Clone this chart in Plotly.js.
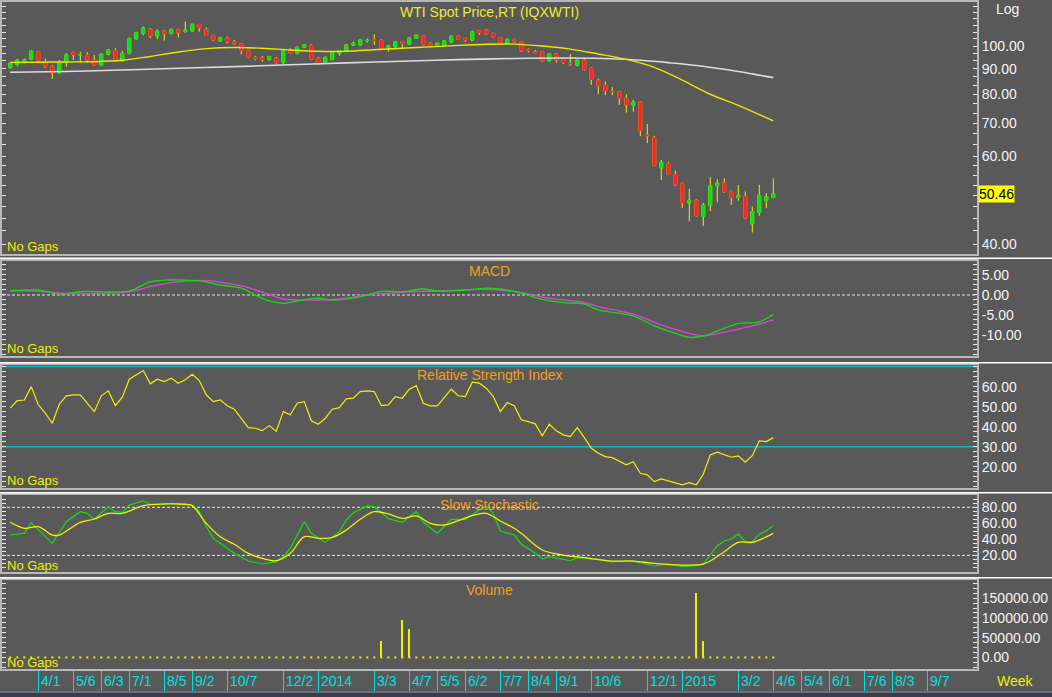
<!DOCTYPE html>
<html><head><meta charset="utf-8">
<script src="https://cdn.plot.ly/plotly-3.0.1.min.js"></script>
<style>html,body{margin:0;padding:0;background:#595959;overflow:hidden}</style>
</head><body><div id="chart" style="width:1052px;height:697px"></div>
<script>
// ---------- DATA (weekly, first week starting 2013-03-04) ----------
const weekStart = '2013-03-04';
const openP = [90.5,91.8,92.8,94.0,97.4,93.0,91.0,88.4,92.8,97.0,95.9,95.9,93.7,91.6,96.3,97.9,93.4,96.7,103.4,106.0,
108.0,104.7,107.0,106.0,108.0,106.9,107.2,110.5,108.0,105.0,102.4,103.8,102.0,101.0,97.9,94.9,94.7,93.9,94.5,92.6,
98.2,96.7,99.4,100.3,94.4,92.7,94.0,96.7,97.9,100.5,100.5,102.5,103.0,102.8,99.2,99.7,102.0,100.9,103.6,104.8,
101.3,100.2,100.2,101.9,104.7,103.6,102.8,107.3,107.7,106.0,103.9,101.5,103.1,102.0,98.5,97.4,97.4,93.4,96.4,94.0,
92.3,91.6,93.7,90.2,85.4,83.5,81.2,80.9,78.5,76.1,77.1,66.3,65.5,56.9,58.0,55.2,53.0,48.4,49.0,45.4,
47.8,52.4,53.1,51.0,49.6,49.8,43.9,46.3,48.9,49.6];
const highP = [92.9,94.2,94.4,97.9,97.8,94.4,91.6,93.7,96.7,97.4,97.4,97.2,95.9,96.6,98.6,99.0,97.9,104.0,106.8,109.4,
108.7,108.0,107.7,108.5,108.3,112.0,110.8,110.8,109.0,105.4,104.4,104.4,102.8,101.3,98.3,95.5,95.5,95.6,95.0,98.3,
99.0,99.8,101.0,100.8,95.0,95.3,97.8,98.2,100.9,102.0,103.2,103.6,105.6,103.0,100.5,102.4,102.3,104.3,105.5,105.0,
101.7,101.6,102.9,105.0,105.0,103.9,107.3,107.7,108.0,106.4,104.2,103.6,103.5,102.3,98.9,98.2,97.7,96.7,96.7,94.5,
96.4,94.2,94.5,90.6,86.0,84.9,82.8,81.3,80.0,77.9,77.3,69.7,66.0,59.0,58.5,56.2,53.1,51.6,49.2,48.4,
54.5,54.0,54.2,51.3,52.6,51.0,47.6,52.6,50.6,54.2];
const lowP = [90.0,91.0,92.3,93.6,92.4,90.4,85.9,87.9,90.9,93.7,92.6,92.6,91.4,91.2,95.8,93.0,93.0,96.2,103.0,105.0,
103.6,103.3,102.5,105.5,104.1,106.4,106.9,106.9,104.7,102.3,101.9,101.3,100.5,96.2,94.5,93.6,93.0,93.5,92.2,92.1,
96.4,96.2,99.0,94.0,91.6,91.9,93.6,95.6,97.6,100.0,100.2,101.6,100.5,98.6,97.4,99.3,98.9,100.5,103.3,100.2,
99.6,99.7,99.8,101.6,102.8,101.9,102.4,105.2,105.3,104.0,100.8,101.0,101.6,97.4,97.1,96.7,93.0,93.0,92.6,92.0,
91.2,91.0,89.2,83.5,80.0,79.7,79.7,76.1,73.5,73.8,65.9,63.8,57.3,53.8,55.0,52.3,47.3,44.4,45.4,43.5,
46.6,48.5,50.7,47.9,48.9,44.9,42.2,45.6,47.2,49.4];
const closeP = [92.4,93.7,94.0,97.6,93.4,91.0,88.4,92.6,95.9,96.1,96.1,93.7,91.6,96.3,98.2,93.7,96.7,103.6,106.3,108.7,
104.7,107.0,106.0,108.0,106.4,107.7,110.6,108.7,105.0,102.8,103.9,102.0,101.0,97.9,94.9,94.3,93.9,95.2,92.6,97.9,
96.7,99.4,100.6,94.2,92.7,94.9,97.4,97.9,100.5,101.3,102.8,102.7,102.6,98.9,100.0,102.0,101.2,103.9,105.2,100.5,
100.2,101.3,102.5,104.7,103.1,102.8,107.0,106.5,105.7,104.4,101.3,103.1,102.0,97.7,97.9,97.0,93.4,96.4,93.7,92.6,
92.0,93.7,89.7,85.7,83.1,81.3,80.9,78.5,76.1,77.1,67.6,66.0,57.6,58.4,55.2,52.6,48.4,49.0,45.6,47.9,
52.4,53.0,51.0,49.6,50.1,45.1,46.5,50.1,49.8,50.46];

// moving averages read at sample weeks
const maFastIdx = [0,4,8,12,16,20,24,28,32,36,40,44,48,52,56,60,64,68,72,76,80,84,88,92,96,100,104,109];
const maFastVal = [92.7,92.8,92.9,93.0,93.6,95.3,97.3,98.8,99.3,99.0,98.2,97.6,97.6,98.3,99.0,99.6,100.3,100.8,100.9,100.0,98.6,96.4,94.0,90.6,85.4,80.0,76.0,70.7];
const maSlowIdx = [0,8,16,24,32,40,48,56,64,72,80,86,90,94,98,102,106,109];
const maSlowVal = [88.6,88.9,89.5,90.2,90.9,91.7,92.5,93.2,93.9,94.4,94.6,94.3,93.6,92.6,91.4,89.8,87.9,86.4];

// MACD
const macdIdx = [0,4,7,9,11,14,17,20,22,25,28,30,33,35,37,39,41,44,46,49,51,53,56,59,61,65,68,70,73,76,79,82,84,89,92,95,97,99,102,104,107,109];
const macdVal = [1.0,1.2,0.2,0.6,0.9,0.75,1.0,3.3,3.7,3.7,3.3,2.5,1.7,0,-1.5,-2.1,-1.5,-0.8,-1.25,-0.8,0,0.9,0.8,1.5,1.0,1.2,1.7,1.5,0.5,-1.1,-1.9,-2.25,-3.75,-5.25,-7.7,-9.6,-10.6,-10.25,-8.3,-7.1,-6.7,-4.8];
const signalIdx = [0,4,8,14,17,20,23,28,33,37,39,44,47,51,57,61,68,73,77,82,84,89,93,97,99,102,106,109];
const signalVal = [1.0,1.0,0.33,0.5,0.8,2.1,3.1,3.6,2.25,0.17,-1.0,-1.25,-1.0,0,0.8,1.0,1.4,0.6,-0.8,-1.9,-2.9,-4.8,-7.5,-9.6,-10.2,-9.3,-7.75,-6.25];

// RSI (every week)
const rsiVal = [49.2,53.0,53.3,60.0,50.9,46.7,41.7,51.2,55.4,55.9,55.9,51.7,47.5,55.4,57.9,50.5,54.7,63.7,65.9,68.0,
61.4,63.7,62.5,64.2,61.7,63.4,66.2,63.0,55.9,52.5,53.4,50.4,48.7,44.2,39.5,39.2,38.0,40.5,37.7,47.5,
45.9,51.7,52.5,42.9,41.2,44.2,48.7,49.5,53.9,54.2,57.5,57.9,57.5,50.5,50.9,55.0,54.2,58.7,60.5,51.7,
50.4,50.4,54.5,58.7,55.4,55.0,62.2,61.7,59.2,55.0,47.5,52.0,50.4,43.4,42.5,41.4,35.4,41.2,37.9,35.9,
35.0,39.5,34.5,29.2,26.7,25.0,24.5,22.9,20.9,22.5,16.7,15.9,12.5,13.9,12.9,12.0,10.9,12.0,10.9,16.2,
25.9,27.2,25.9,24.7,25.4,22.2,25.5,32.9,32.5,34.5];

// Slow stochastic
const stochKIdx = [0,2,3,5,6,8,10,11,12,14,15,16,17,19,20,22,23,25,26,27,28,29,30,32,34,36,38,39,40,42,43,45,47,48,49,51,52,54,56,58,59,61,63,65,67,68,69,70,72,73,75,76,77,79,80,81,83,86,89,92,94,96,98,99,100,101,102,103,104,105,106,107,108,109];
const stochKVal = [45.4,47.5,60.8,43.3,35.0,62.1,74.6,72.5,65.0,80.8,74.6,73.3,82.9,87.9,83.8,83.8,85.0,83.3,82.5,74.6,55.8,41.2,35.0,22.5,12.9,9.2,12.1,18.3,28.8,62.1,47.5,36.2,49.6,64.2,73.3,81.7,80.8,65.8,61.3,74.6,61.3,47.5,65.0,65.0,76.7,80.8,72.5,50.4,45.4,34.2,22.5,15.8,18.3,15.0,13.3,17.1,15.8,12.1,12.9,6.7,9.2,5.8,7.1,9.2,20.4,32.1,37.9,40.4,46.7,37.1,37.1,46.3,50.8,57.1];
const stochDIdx = [0,2,4,6,7,10,12,14,16,19,22,25,26,28,30,32,34,36,38,40,42,44,46,48,50,52,54,56,58,60,62,64,66,68,70,72,73,76,79,82,86,89,92,96,99,100,102,104,106,109];
const stochDVal = [61.3,53.8,55.8,45.4,45.4,61.3,65.4,72.5,72.5,82.1,84.2,83.8,82.1,60.0,43.3,33.8,22.5,16.3,13.3,22.5,43.3,41.3,42.5,51.7,65.0,74.6,71.7,66.3,69.2,60.0,57.9,63.3,69.6,72.5,62.9,53.8,47.5,26.7,20.4,17.1,12.9,12.9,10.0,7.9,9.2,12.9,24.6,36.3,36.3,47.5];

// Volume (non-zero weeks only)
const volIdx = [53,56,57,98,99];
const volVal = [41500,95750,72500,162500,40750];

// X axis tick labels
const tickDates = ['2013-04-01','2013-05-06','2013-06-03','2013-07-01','2013-08-05','2013-09-02','2013-10-07','2013-12-02','2014-01-06','2014-03-03','2014-04-07','2014-05-05','2014-06-02','2014-07-07','2014-08-04','2014-09-01','2014-10-06','2014-12-01','2015-01-05','2015-03-02','2015-04-06','2015-05-04','2015-06-01','2015-07-06','2015-08-03','2015-09-07'];
const tickLabels = ['4/1','5/6','6/3','7/1','8/5','9/2','10/7','12/2','2014','3/3','4/7','5/5','6/2','7/7','8/4','9/1','10/6','12/1','2015','3/2','4/6','5/4','6/1','7/6','8/3','9/7'];

// ---------- BUILD ----------
const t0 = Date.parse(weekStart + 'T00:00:00Z');
const weeks = openP.map((_, i) => new Date(t0 + i * 7 * 86400000).toISOString().slice(0, 10));
const at = idx => idx.map(i => weeks[i]);
const volume = weeks.map((_, i) => { const k = volIdx.indexOf(i); return k >= 0 ? volVal[k] : 0; });

const FONT = 'Liberation Sans, Arial, sans-serif';
const YEL = '#f0f000', ORANGE = '#f0a020', CYAN = '#00e0e0', GREEN = '#10e010', RED = '#ff2424', MAG = '#e040e0';
const BORDER = '#b8b8b8', BG = '#595959';

const traces = [
  { type:'candlestick', x:weeks, open:openP, high:highP, low:lowP, close:closeP, xaxis:'x', yaxis:'y',
    increasing:{line:{color:YEL,width:1}, fillcolor:YEL}, decreasing:{line:{color:YEL,width:1}, fillcolor:YEL},
    hoverinfo:'none', showlegend:false },
  { type:'candlestick', x:weeks, open:openP, close:closeP,
    high:openP.map((o,i)=>Math.max(o,closeP[i])), low:openP.map((o,i)=>Math.min(o,closeP[i])), xaxis:'x', yaxis:'y',
    increasing:{line:{color:GREEN,width:1}, fillcolor:GREEN}, decreasing:{line:{color:RED,width:1}, fillcolor:RED},
    hoverinfo:'none', showlegend:false },
  { type:'scatter', mode:'lines', x:at(maSlowIdx), y:maSlowVal, xaxis:'x', yaxis:'y', line:{color:'#dcdcdc', width:1.6, shape:'spline'}, hoverinfo:'none' },
  { type:'scatter', mode:'lines', x:at(maFastIdx), y:maFastVal, xaxis:'x', yaxis:'y', line:{color:'#e8e800', width:1.4, shape:'spline'}, hoverinfo:'none' },
  { type:'scatter', mode:'lines', x:at(signalIdx), y:signalVal, xaxis:'x2', yaxis:'y2', line:{color:MAG, width:1.3, shape:'spline'}, hoverinfo:'none' },
  { type:'scatter', mode:'lines', x:at(macdIdx), y:macdVal, xaxis:'x2', yaxis:'y2', line:{color:GREEN, width:1.3, shape:'spline'}, hoverinfo:'none' },
  { type:'scatter', mode:'lines', x:weeks, y:rsiVal, xaxis:'x3', yaxis:'y3', line:{color:YEL, width:1.2}, hoverinfo:'none' },
  { type:'scatter', mode:'lines', x:at(stochKIdx), y:stochKVal, xaxis:'x4', yaxis:'y4', line:{color:GREEN, width:1.2}, hoverinfo:'none' },
  { type:'scatter', mode:'lines', x:at(stochDIdx), y:stochDVal, xaxis:'x4', yaxis:'y4', line:{color:YEL, width:1.3, shape:'spline'}, hoverinfo:'none' },
  { type:'scatter', mode:'markers', x:weeks, y:volume.map(v => v * 0), xaxis:'x5', yaxis:'y5', marker:{color:YEL, size:2, symbol:'square'}, hoverinfo:'none' },
  { type:'bar', x:weeks, y:volume, xaxis:'x5', yaxis:'y5', width:2*86400000, marker:{color:YEL, line:{width:0}}, hoverinfo:'none' }
];

function ticks(from, to, step, isMajor, fmt) {
  const vals = [], text = [];
  for (let v = from; v <= to + 1e-9; v += step) { vals.push(+v.toFixed(4)); text.push(isMajor(v) ? fmt(v) : ''); }
  return { tickmode:'array', tickvals:vals, ticktext:text };
}
const f2 = v => (Math.abs(v) < 1e-9 ? 0 : v).toFixed(2);
const near = (v, m) => Math.abs(v / m - Math.round(v / m)) < 1e-6;

const priceTickVals = [40,42.5,45,47.5,50,52.5,55,57.5,60,63.33,66.67,70,73.33,76.67,80,83.33,86.67,90,93.33,96.67,100,103.33,106.67,110,113.33,116.67,120];
// 50.00 sits under the last-price tag in the reference, so it is not labelled
const priceMajor = [40,60,70,80,90,100];

const xBase = { type:'date', showline:true, mirror:true, linecolor:BORDER, linewidth:2, showgrid:false, zeroline:false,
  ticks:'', showticklabels:false, fixedrange:true };
const yBase = { side:'right', showline:true, mirror:'ticks', linecolor:BORDER, linewidth:2, showgrid:false, zeroline:false,
  ticks:'inside', ticklen:4, tickcolor:'#e8e8e8', tickwidth:1, fixedrange:true,
  tickfont:{family:FONT, size:14, color:'#f4f4f4'} };

const D = { p:[0.6222,1], m:[0.4693,0.6117], r:[0.2714,0.4558], s:[0.1454,0.2609], v:[0,0.1334] };

const layout = {
  width:1052, height:697, margin:{l:2, r:75, t:2, b:28},
  paper_bgcolor:BG, plot_bgcolor:BG, showlegend:false, boxgap:0.42, bargap:0,
  font:{family:FONT, color:'#f4f4f4'},
  xaxis: Object.assign({}, xBase, { anchor:'y', range:['2013-02-23 17:00','2015-10-26 17:00'], rangeslider:{visible:false} }),
  xaxis2: Object.assign({}, xBase, { anchor:'y2', matches:'x' }),
  xaxis3: Object.assign({}, xBase, { anchor:'y3', matches:'x' }),
  xaxis4: Object.assign({}, xBase, { anchor:'y4', matches:'x' }),
  xaxis5: Object.assign({}, xBase, { anchor:'y5', matches:'x', ticks:'outside', ticklen:21, tickcolor:CYAN, tickwidth:1,
    tickmode:'array', tickvals:tickDates }),
  yaxis: Object.assign({}, yBase, { anchor:'x', domain:D.p, type:'log', range:[Math.log10(38.2), Math.log10(122.6)],
    tickmode:'array', tickvals:priceTickVals, ticktext:priceTickVals.map(v => priceMajor.includes(v) ? v.toFixed(2) : '') }),
  yaxis2: Object.assign({}, yBase, { anchor:'x2', domain:D.m, range:[-15.25, 8.5] },
    ticks(-15, 8.75, 1.25, v => near(v,5) && v > -12 && v < 7, f2)),
  yaxis3: Object.assign({}, yBase, { anchor:'x3', domain:D.r, range:[9.35, 70.8] },
    ticks(10, 70, 2.5, v => near(v,10) && v >= 20 && v <= 60, f2)),
  yaxis4: Object.assign({}, yBase, { anchor:'x4', domain:D.s, range:[-0.8, 95.4] },
    ticks(0, 95, 5, v => near(v,20) && v >= 20 && v <= 80, f2)),
  yaxis5: Object.assign({}, yBase, { anchor:'x5', domain:D.v, range:[-29250, 195750] },
    ticks(-25000, 187500, 12500, v => near(v,50000) && v >= 0, f2)),
  shapes: [], annotations: []
};

// separators between panels
[0.6157, 0.4592, 0.2643, 0.1369].forEach(y => layout.shapes.push({ type:'line', xref:'paper', yref:'paper',
  x0:-0.01, x1:1.08, y0:y, y1:y, line:{color:'#ffffff', width:1.5}, layer:'above' }));
// bottom band
layout.shapes.push({ type:'rect', xref:'paper', yref:'paper', x0:-0.01, x1:1.08, y0:-0.06, y1:-0.0345, fillcolor:'#3e3e3e', line:{width:0} });
layout.shapes.push({ type:'line', xref:'paper', yref:'paper', x0:-0.01, x1:1.08, y0:-0.0345, y1:-0.0345, line:{color:'#5a7094', width:2} });
// reference lines
layout.shapes.push({ type:'line', xref:'x2 domain', yref:'y2', x0:0, x1:1, y0:0, y1:0, line:{color:'#e8e8e8', width:1, dash:'3px,2px'}, layer:'below' });
[30, 70].forEach(v => layout.shapes.push({ type:'line', xref:'x3 domain', yref:'y3', x0:0, x1:1, y0:v, y1:v, line:{color:'#18b4c0', width:1.5}, layer:'below' }));
[20, 80].forEach(v => layout.shapes.push({ type:'line', xref:'x4 domain', yref:'y4', x0:0, x1:1, y0:v, y1:v, line:{color:'#e8e8e8', width:1, dash:'3px,2px'}, layer:'below' }));

// panel titles
const titles = [['WTI Spot Price,RT (IQXWTI)', 'y', '#ecec30'], ['MACD', 'y2', ORANGE], ['Relative Strength Index', 'y3', ORANGE],
  ['Slow Stochastic', 'y4', ORANGE], ['Volume', 'y5', ORANGE]];
titles.forEach(([t, ax, c]) => {
  layout.annotations.push({ text:t, xref:'paper', x:0.5, xanchor:'center', yref:ax + ' domain', y:1, yanchor:'middle', yshift:-10,
    showarrow:false, font:{family:FONT, size:14, color:c} });
  layout.annotations.push({ text:'No Gaps', xref:'paper', x:0, xanchor:'left', xshift:3, yref:ax + ' domain', y:0, yanchor:'middle', yshift:7,
    showarrow:false, font:{family:FONT, size:13, color:YEL} });
});
// x tick labels
tickDates.forEach((d, i) => layout.annotations.push({ text:tickLabels[i], xref:'x5', x:d, xanchor:'left', xshift:1,
  yref:'paper', y:-0.018, yanchor:'middle', showarrow:false, font:{family:FONT, size:14, color:CYAN} }));
layout.annotations.push({ text:'Log', xref:'paper', x:1.0308, xanchor:'center', yref:'paper', y:0.989, yanchor:'middle', showarrow:false, font:{family:FONT, size:14, color:'#f4f4f4'} });
layout.annotations.push({ text:'Week', xref:'paper', x:1.039, xanchor:'center', yref:'paper', y:-0.0175, yanchor:'middle', showarrow:false, font:{family:FONT, size:14, color:YEL} });
// last price tag
const last = closeP[closeP.length - 1];
layout.annotations.push({ text:last.toFixed(2), xref:'paper', x:1, xanchor:'left', xshift:1, yref:'y', y:Math.log10(last), yanchor:'middle',
  showarrow:false, bgcolor:'#ffff00', borderpad:0, font:{family:FONT, size:14, color:'#000000'} });

Plotly.newPlot('chart', traces, layout, { displayModeBar:false, staticPlot:true });
</script>
</body></html>
